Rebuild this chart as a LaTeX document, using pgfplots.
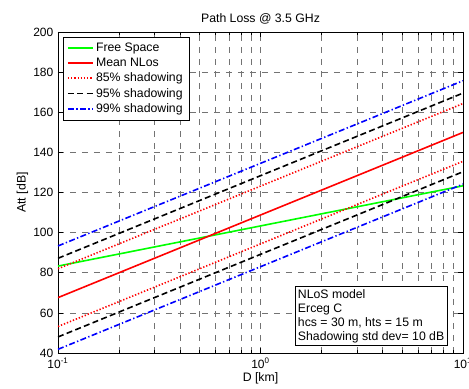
\documentclass[border=0pt]{standalone}
\usepackage{pgfplots}
\pgfplotsset{compat=1.18}
\usepackage{fontspec}
\setmainfont{Liberation Sans}

\begin{document}
\begin{tikzpicture}[font=\fontsize{9.2}{11}\selectfont]
\begin{axis}[
  name=ax,
  scale only axis,
  width=303.75pt, height=240.75pt,
  xmode=log,
  xmin=0.1, xmax=10,
  ymin=40, ymax=200,
  ytick={40,60,...,200},
  xtick={0.1,1,10},
  xticklabels={10\textsuperscript{-1},10\textsuperscript{0},10\textsuperscript{1}},
  /pgf/number format/assume math mode=true,
  tick align=inside,
  major tick length=3.5pt,
  minor tick length=2.5pt,
  tick style={black, line width=0.5pt},
  xmajorgrids, xminorgrids, ymajorgrids,
  major grid style={black!55, line width=0.45pt, dash pattern=on 4.5pt off 4.5pt},
  minor grid style={black!55, line width=0.45pt, dash pattern=on 4.5pt off 4.5pt},
  axis line style={black, line width=0.7pt},
  tick label style={font=\fontsize{9}{10}\selectfont},
  title={Path Loss @ 3.5 GHz},
  title style={yshift=-3.5pt},
  xlabel={D [km]},
  ylabel={Att [dB]},
  xlabel style={yshift=4pt},
  ylabel style={yshift=-3pt},
  legend style={at={(0.012,0.984)}, anchor=north west, draw=black, fill=white,
    font=\fontsize{9.2}{11.2}\selectfont, row sep=-0.6pt,
    inner xsep=3pt, inner ysep=2pt},
  legend cell align=left,
  legend image code/.code={\draw[#1] (0cm,0cm) -- (0.65cm,0cm);},
]
% free space loss
\addplot[green, line width=1.2pt] coordinates {(0.1,83.33) (1,103.33) (10,123.33)};
\addlegendentry{Free Space}
% Erceg C mean loss
\addplot[red, line width=1.2pt] coordinates {(0.1,67.6) (1,108.77) (10,149.94)};
\addlegendentry{Mean NLos}
% 85% shadowing margin
\addplot[red, line width=1.2pt, dash pattern=on 1pt off 1.4pt] coordinates {(0.1,82.0) (1,123.17) (10,164.34)};
\addlegendentry{85\% shadowing}
% 95% shadowing margin
\addplot[black, line width=1.2pt, dash pattern=on 4.5pt off 2.5pt] coordinates {(0.1,87.2) (1,128.37) (10,169.54)};
\addlegendentry{95\% shadowing}
% 99% shadowing margin
\addplot[blue, line width=1.2pt, dash pattern=on 4.5pt off 1.8pt on 1pt off 1.8pt] coordinates {(0.1,93.36) (1,134.53) (10,175.7)};
\addlegendentry{99\% shadowing}
% lower margins
\addplot[red, line width=1.2pt, dash pattern=on 1pt off 1.4pt, forget plot] coordinates {(0.1,53.2) (1,94.37) (10,135.54)};
\addplot[black, line width=1.2pt, dash pattern=on 4.5pt off 2.5pt, forget plot] coordinates {(0.1,48.0) (1,89.17) (10,130.34)};
\addplot[blue, line width=1.2pt, dash pattern=on 4.5pt off 1.8pt on 1pt off 1.8pt, forget plot] coordinates {(0.1,41.84) (1,83.01) (10,124.18)};
% model annotation
\node[draw=black, fill=white, line width=0.6pt, anchor=south west, align=left,
      inner sep=2pt, font=\fontsize{9.2}{10.5}\selectfont]
  at (rel axis cs:0.585,0.022)
  {NLoS model\\Erceg C\\hcs = 30 m, hts = 15 m\\Shadowing std dev= 10 dB};
\end{axis}
\pgfresetboundingbox
\path[use as bounding box] ([xshift=-43.5pt,yshift=-27pt]ax.south west) rectangle ([xshift=4.5pt,yshift=24pt]ax.north east);
\end{tikzpicture}
\end{document}
